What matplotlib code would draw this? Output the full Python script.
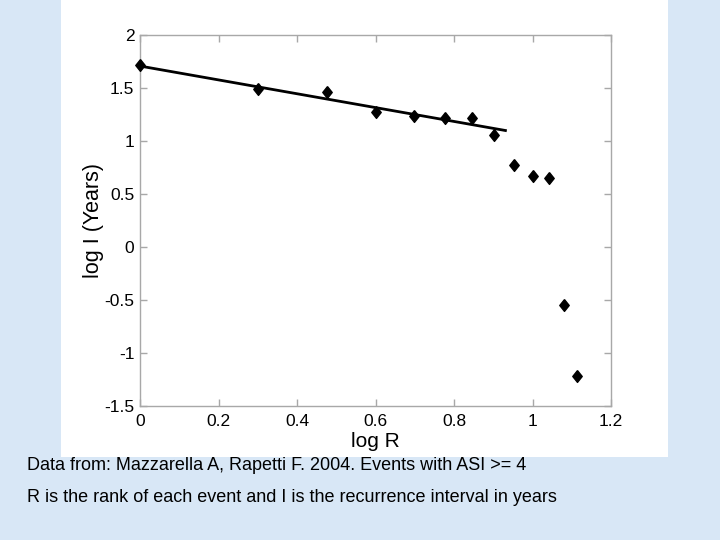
import matplotlib
matplotlib.use("Agg")
import matplotlib.pyplot as plt
from matplotlib.patches import Rectangle

log_R = [0.0, 0.301, 0.477, 0.602, 0.699, 0.778, 0.845, 0.903, 0.954, 1.0, 1.041, 1.079, 1.114]
log_I = [1.720, 1.488, 1.463, 1.277, 1.234, 1.215, 1.215, 1.061, 0.778, 0.672, 0.653, -0.546, -1.221]
fit_x = [0.0, 0.931]
fit_y = [1.707, 1.099]
x_ticks = [0, 0.2, 0.4, 0.6, 0.8, 1, 1.2]
x_tick_labels = ["0", "0.2", "0.4", "0.6", "0.8", "1", "1.2"]
y_ticks = [-1.5, -1, -0.5, 0, 0.5, 1, 1.5, 2]
y_tick_labels = ["-1.5", "-1", "-0.5", "0", "0.5", "1", "1.5", "2"]

plt.rcParams['font.family'] = ['Liberation Sans', 'DejaVu Sans']

fig = plt.figure(figsize=(7.2, 5.4), dpi=100)
fig.patch.set_facecolor('#d8e7f6')
fig.patches.append(Rectangle((61/720, 1-457/540), (668-61)/720, 457/540,
                             transform=fig.transFigure, facecolor='white',
                             edgecolor='none', zorder=-1))

ax = fig.add_axes([140/720, 1-406/540, (611-140)/720, (406-35)/540])
ax.set_zorder(2)
ax.set_facecolor('white')
ax.plot(fit_x, fit_y, color='black', lw=2, zorder=2)
diamond = [(0, 1), (0.8, 0), (0, -1), (-0.8, 0), (0, 1)]
ax.plot(log_R, log_I, linestyle='none', marker=diamond, markersize=8.5,
        color='black', zorder=3, clip_on=False)
ax.set_xlim(0, 1.2)
ax.set_ylim(-1.5, 2)
ax.set_xticks(x_ticks)
ax.set_xticklabels(x_tick_labels)
ax.set_yticks(y_ticks)
ax.set_yticklabels(y_tick_labels)
for s in ax.spines.values():
    s.set_color('#a8a8a8')
    s.set_linewidth(1)
ax.tick_params(direction='in', length=5, width=1, color='#a8a8a8',
               labelsize=12.5, labelcolor='black', top=True, right=True)
ax.tick_params(axis='y', pad=4)
ax.tick_params(axis='x', pad=6)
ax.set_xlabel('log R', fontsize=15, labelpad=2)
ax.set_ylabel('log I (Years)', fontsize=15.5, labelpad=0)

fig.text(27/720, 1-466/540, 'Data from: Mazzarella A, Rapetti F. 2004. Events with ASI >= 4',
         family=['Liberation Sans Narrow', 'Liberation Sans'], fontsize=13, va='center', ha='left')
fig.text(27/720, 1-498/540, 'R is the rank of each event and I is the recurrence interval in years',
         family=['Liberation Sans Narrow', 'Liberation Sans'], fontsize=13, va='center', ha='left')

fig.savefig('out.png', dpi=100, facecolor=fig.get_facecolor())
